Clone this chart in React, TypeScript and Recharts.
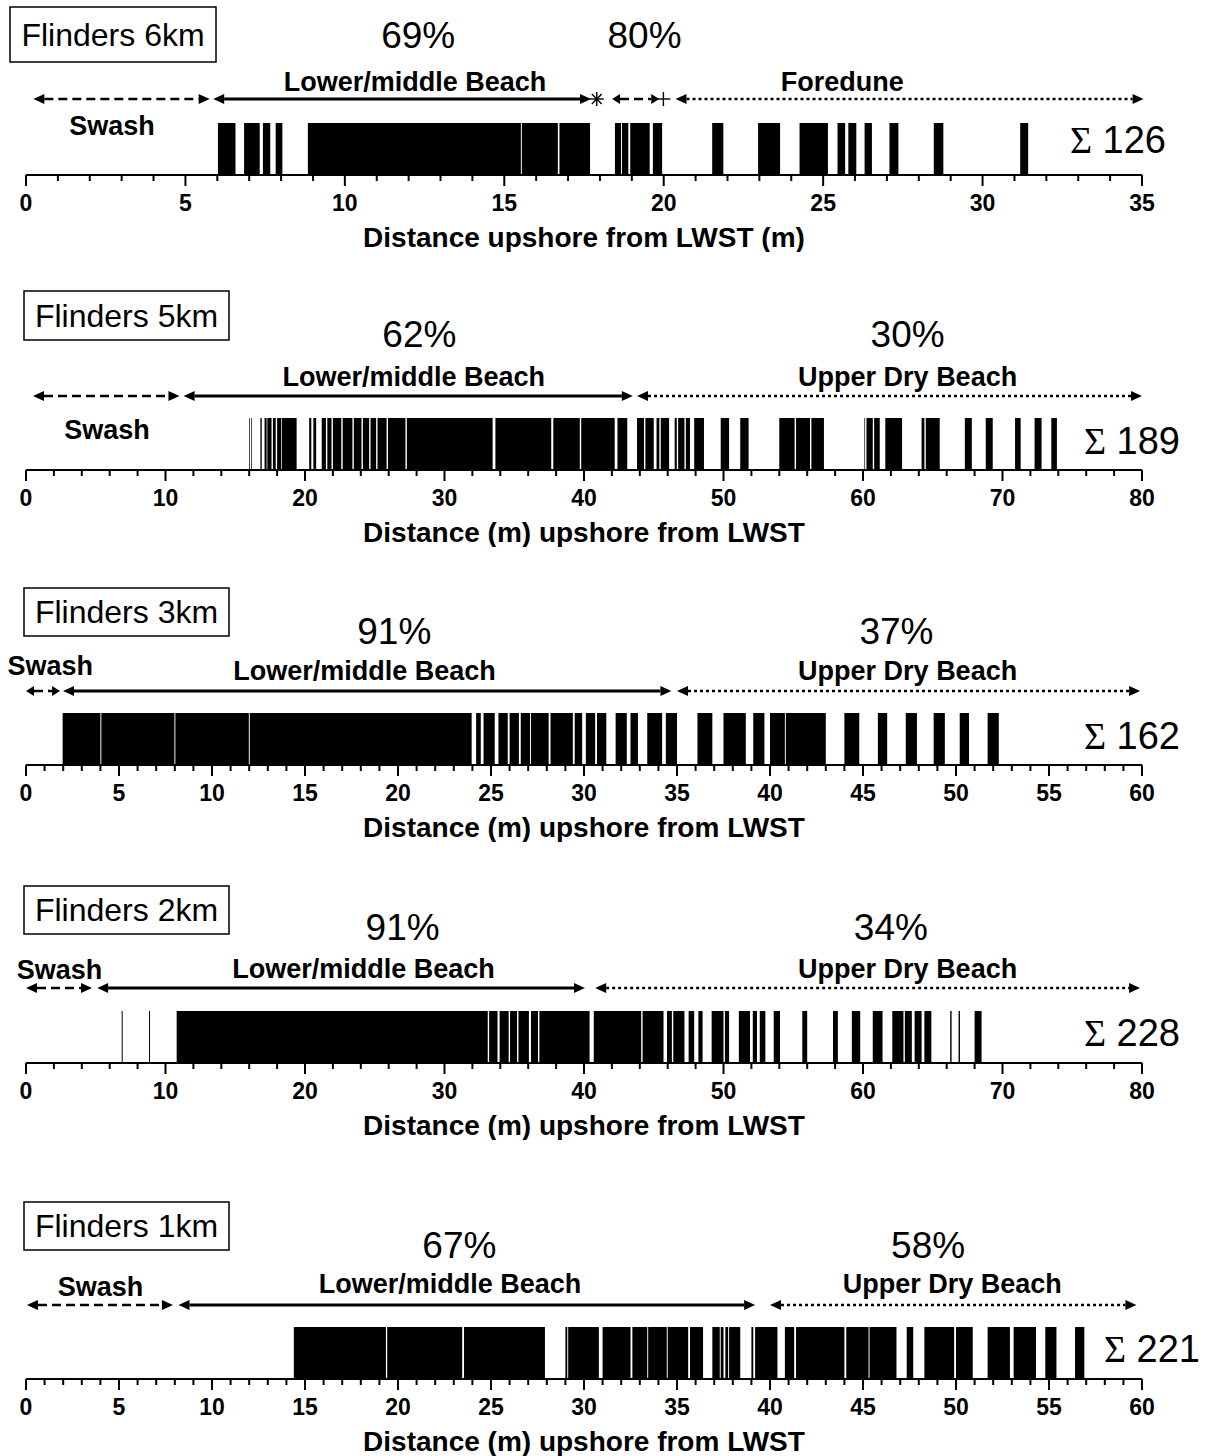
import React from "react";
import { ComposedChart, Area, XAxis, YAxis, ReferenceLine, ReferenceDot } from "recharts";

const SANS = "'Liberation Sans', Arial, sans-serif";
const SERIF = "'Liberation Serif', 'Times New Roman', serif";

type Band = [number, number];
type Region = { from: number; to: number; kind: "swash" | "lower" | "upper"; name: string; labelAt: number };
type Pct = { at: number; text: string };

// site names, totals and axes
const siteNames = ["Flinders 6km", "Flinders 5km", "Flinders 3km", "Flinders 2km", "Flinders 1km"];
const totals = [126, 189, 162, 228, 221];
const axisMax = [35, 80, 60, 80, 60];
const minorStep = [1, 2, 1, 2, 1];
const axisTitles = [
  "Distance upshore from LWST (m)",
  "Distance (m) upshore from LWST",
  "Distance (m) upshore from LWST",
  "Distance (m) upshore from LWST",
  "Distance (m) upshore from LWST",
];

const majorTicks6km = [0, 5, 10, 15, 20, 25, 30, 35];
const majorTicks5km = [0, 10, 20, 30, 40, 50, 60, 70, 80];
const majorTicks3km = [0, 5, 10, 15, 20, 25, 30, 35, 40, 45, 50, 55, 60];
const majorTicks2km = [0, 10, 20, 30, 40, 50, 60, 70, 80];
const majorTicks1km = [0, 5, 10, 15, 20, 25, 30, 35, 40, 45, 50, 55, 60];

// occupied stretches along the transect (m)
const bands6km: Band[] = [
  [6.02, 6.57], [6.84, 7.33], [7.43, 7.66], [7.83, 8.04], [8.84, 15.52], [15.55, 16.68],
  [16.73, 17.69], [18.47, 18.66], [18.69, 18.89], [18.95, 19.56], [19.66, 19.95], [21.52, 21.87],
  [22.96, 23.65], [24.26, 25.15], [25.45, 25.69], [25.79, 26.04], [26.3, 26.53], [27.08, 27.36],
  [28.47, 28.77], [31.18, 31.43],
];
const bands5km: Band[] = [
  [16.0, 16.05], [16.15, 16.2], [16.8, 16.9], [17.1, 17.25], [17.3, 17.6], [17.7, 17.9],
  [18.0, 18.3], [18.35, 19.4], [20.3, 20.45], [20.6, 20.8], [21.2, 21.5], [21.6, 21.9],
  [22.0, 22.6], [22.7, 23.4], [23.5, 24.05], [24.15, 24.6], [24.7, 25.1], [25.2, 25.85],
  [25.95, 27.2], [27.3, 33.45], [33.65, 37.65], [37.8, 39.7], [39.8, 42.2], [42.4, 43.1],
  [43.8, 44.3], [44.4, 45.0], [45.2, 45.4], [45.5, 46.1], [46.5, 46.65], [46.75, 47.2],
  [47.3, 47.6], [47.9, 48.6], [49.8, 50.4], [51.2, 51.8], [54.0, 55.1], [55.2, 56.2],
  [56.3, 57.2], [60.1, 60.15], [60.25, 60.7], [60.8, 61.2], [61.6, 62.8], [64.2, 64.4],
  [64.5, 65.5], [67.3, 67.8], [68.8, 69.3], [70.9, 71.3], [72.3, 72.8], [73.5, 73.9],
];
const bands3km: Band[] = [
  [1.97, 4.0], [4.05, 7.98], [8.03, 11.98], [12.03, 23.96], [24.2, 24.45], [24.6, 25.2],
  [25.4, 25.9], [26.0, 26.5], [26.6, 27.1], [27.15, 28.1], [28.2, 29.4], [29.5, 29.9],
  [30.1, 30.6], [30.7, 31.2], [31.7, 32.3], [32.5, 32.9], [33.4, 34.2], [34.4, 35.0],
  [36.1, 36.9], [37.5, 38.7], [39.1, 39.7], [40.0, 40.8], [40.85, 43.0], [44.0, 44.8],
  [45.8, 46.3], [47.3, 47.9], [48.8, 49.4], [50.2, 50.7], [51.7, 52.3],
];
const bands2km: Band[] = [
  [6.86, 6.93], [8.82, 8.89], [10.8, 33.1], [33.2, 33.8], [33.95, 34.6], [34.7, 35.2],
  [35.3, 36.05], [36.2, 36.7], [36.8, 40.4], [40.7, 44.1], [44.2, 45.7], [45.95, 46.3],
  [46.4, 47.2], [47.5, 47.9], [48.2, 48.5], [49.15, 50.0], [50.1, 50.4], [51.1, 51.9],
  [52.1, 52.4], [52.6, 53.0], [53.6, 54.05], [55.65, 56.0], [57.85, 58.2], [59.2, 59.8],
  [60.7, 61.4], [62.1, 62.9], [63.0, 63.5], [63.7, 64.2], [64.4, 64.9], [66.25, 66.35],
  [66.85, 66.95], [68.0, 68.5],
];
const bands1km: Band[] = [
  [14.4, 19.35], [19.42, 23.45], [23.55, 27.9], [29.0, 29.1], [29.15, 30.8], [31.0, 32.5],
  [32.6, 33.4], [33.45, 34.45], [34.5, 35.6], [35.7, 36.4], [36.9, 37.3], [37.35, 37.5],
  [37.6, 37.75], [37.8, 38.4], [39.0, 39.1], [39.2, 40.4], [40.8, 41.3], [41.4, 44.0],
  [44.1, 45.3], [45.35, 46.8], [47.35, 47.7], [48.3, 49.9], [50.0, 50.9], [51.7, 52.9],
  [53.1, 54.3], [54.8, 55.4], [56.4, 56.9],
];

// beach zones
const regions6km: Region[] = [
  { from: 0.23, to: 5.76, kind: "swash", name: "Swash", labelAt: 2.7 },
  { from: 5.87, to: 17.72, kind: "lower", name: "Lower/middle Beach", labelAt: 12.2 },
  { from: 18.38, to: 19.86, kind: "swash", name: "", labelAt: 19.1 },
  { from: 20.37, to: 35.05, kind: "upper", name: "Foredune", labelAt: 25.6 },
];
const regions5km: Region[] = [
  { from: 0.5, to: 11.0, kind: "swash", name: "Swash", labelAt: 5.8 },
  { from: 11.3, to: 43.5, kind: "lower", name: "Lower/middle Beach", labelAt: 27.8 },
  { from: 43.8, to: 80.0, kind: "upper", name: "Upper Dry Beach", labelAt: 63.2 },
];
const regions3km: Region[] = [
  { from: 0.0, to: 1.83, kind: "swash", name: "Swash", labelAt: 1.3 },
  { from: 1.99, to: 34.7, kind: "lower", name: "Lower/middle Beach", labelAt: 18.2 },
  { from: 35.0, to: 59.9, kind: "upper", name: "Upper Dry Beach", labelAt: 47.4 },
];
const regions2km: Region[] = [
  { from: 0.0, to: 4.73, kind: "swash", name: "Swash", labelAt: 2.4 },
  { from: 5.1, to: 40.07, kind: "lower", name: "Lower/middle Beach", labelAt: 24.2 },
  { from: 40.8, to: 79.86, kind: "upper", name: "Upper Dry Beach", labelAt: 63.2 },
];
const regions1km: Region[] = [
  { from: 0.05, to: 7.9, kind: "swash", name: "Swash", labelAt: 4.0 },
  { from: 8.2, to: 39.2, kind: "lower", name: "Lower/middle Beach", labelAt: 22.8 },
  { from: 40.0, to: 59.7, kind: "upper", name: "Upper Dry Beach", labelAt: 49.8 },
];

// percentages above the zones
const pct6km: Pct[] = [{ at: 12.3, text: "69%" }, { at: 19.4, text: "80%" }];
const pct5km: Pct[] = [{ at: 28.2, text: "62%" }, { at: 63.2, text: "30%" }];
const pct3km: Pct[] = [{ at: 19.8, text: "91%" }, { at: 46.8, text: "37%" }];
const pct2km: Pct[] = [{ at: 27.0, text: "91%" }, { at: 62.0, text: "34%" }];
const pct1km: Pct[] = [{ at: 23.3, text: "67%" }, { at: 48.5, text: "58%" }];

// zone boundary symbols at 6km
const symbols6km = [{ at: 17.9, kind: "star" }, { at: 19.99, kind: "plus" }];

const allBands = [bands6km, bands5km, bands3km, bands2km, bands1km];
const allRegions = [regions6km, regions5km, regions3km, regions2km, regions1km];
const allPct = [pct6km, pct5km, pct3km, pct2km, pct1km];
const allMajor = [majorTicks6km, majorTicks5km, majorTicks3km, majorTicks2km, majorTicks1km];

// page layout (pixels)
const layout = [
  { bt: 123, arrowDy: -24, labelDy: -32, pctDy: -75, swashDy: 12, sigmaRight: 1166, sigmaDy: 30, box: [10, 7, 206, 55] },
  { bt: 418, arrowDy: -22, labelDy: -32, pctDy: -71, swashDy: 21, sigmaRight: 1180, sigmaDy: 36, box: [24, 291, 205, 49] },
  { bt: 713, arrowDy: -22, labelDy: -33, pctDy: -69, swashDy: -38, sigmaRight: 1180, sigmaDy: 36, box: [24, 588, 205, 48] },
  { bt: 1011, arrowDy: -23, labelDy: -33, pctDy: -71, swashDy: -32, sigmaRight: 1180, sigmaDy: 35, box: [24, 886, 205, 48] },
  { bt: 1327, arrowDy: -22, labelDy: -34, pctDy: -69, swashDy: -31, sigmaRight: 1200, sigmaDy: 35, box: [24, 1202, 205, 48] },
];

const PLOT_TOP = 123;
const CHART_H = 252;

const kindStyle: Record<string, { w: number; dash?: string }> = {
  swash: { w: 2.5, dash: "9 5" },
  lower: { w: 3 },
  upper: { w: 2.5, dash: "3 3" },
};

function arrowShape(r: Region, L: any) {
  return (p: any) => {
    const { x1, x2, y1 } = p;
    const y = y1 + L.arrowDy;
    const head = x2 - x1 < 50 ? 8 : 11;
    const half = 5;
    const st = kindStyle[r.kind];
    const lx = x1 + ((r.labelAt - r.from) / (r.to - r.from)) * (x2 - x1);
    const ly = y1 + (r.name === "Swash" ? L.swashDy : L.labelDy);
    return (
      <g>
        <line x1={x1 + head} x2={x2 - head} y1={y} y2={y} stroke="#000" strokeWidth={st.w} strokeDasharray={st.dash} />
        <polygon points={`${x1},${y} ${x1 + head},${y - half} ${x1 + head},${y + half}`} fill="#000" />
        <polygon points={`${x2},${y} ${x2 - head},${y - half} ${x2 - head},${y + half}`} fill="#000" />
        {r.name ? (
          <text x={lx} y={ly} textAnchor="middle" fontFamily={SANS} fontWeight={700} fontSize={27} fill="#000">
            {r.name}
          </text>
        ) : null}
      </g>
    );
  };
}

function pctShape(t: string, L: any) {
  return (p: any) => (
    <text x={p.cx} y={p.cy + L.pctDy} textAnchor="middle" fontFamily={SANS} fontSize={37} fill="#000">
      {t}
    </text>
  );
}

function symbolShape(kind: string, L: any) {
  return (p: any) => {
    const cx = p.cx;
    const cy = p.cy + L.arrowDy;
    const r = 7;
    if (kind === "plus") {
      return (
        <g stroke="#000" strokeWidth={1.4}>
          <line x1={cx - r} x2={cx + r} y1={cy} y2={cy} />
          <line x1={cx} x2={cx} y1={cy - r} y2={cy + r} />
        </g>
      );
    }
    const angles = [0, 45, 90, 135];
    return (
      <g stroke="#000" strokeWidth={1.4}>
        {angles.map((a) => {
          const dx = r * Math.cos((a * Math.PI) / 180);
          const dy = r * Math.sin((a * Math.PI) / 180);
          return <line key={a} x1={cx - dx} x2={cx + dx} y1={cy - dy} y2={cy + dy} />;
        })}
      </g>
    );
  };
}

function tickRenderer(major: number[]) {
  return (p: any) => {
    const v = p.payload.value;
    const isMajor = major.includes(v);
    return (
      <g>
        <line x1={p.x} x2={p.x} y1={p.y} y2={p.y + (isMajor ? 11 : 6)} stroke="#000" strokeWidth={2} />
        {isMajor ? (
          <text x={p.x} y={p.y + 36} textAnchor="middle" fontFamily={SANS} fontWeight={700} fontSize={23} fill="#000">
            {v}
          </text>
        ) : null}
      </g>
    );
  };
}

function Panel({ idx }: { idx: number }) {
  const L = layout[idx];
  const max = axisMax[idx];
  const bands = allBands[idx];
  const data: { x: number; v: number }[] = [{ x: 0, v: 0 }];
  bands.forEach(([a, b]) => {
    data.push({ x: a, v: 1 });
    data.push({ x: b, v: 0 });
  });
  data.push({ x: max, v: 0 });
  const ticks: number[] = [];
  for (let t = 0; t <= max; t += minorStep[idx]) ticks.push(t);

  return (
    <div style={{ position: "absolute", left: 0, top: L.bt - PLOT_TOP }}>
      <ComposedChart width={1210} height={CHART_H} data={data} margin={{ top: PLOT_TOP, right: 68, bottom: 5, left: 26 }}>
        <XAxis
          dataKey="x"
          type="number"
          domain={[0, max]}
          ticks={ticks}
          interval={0}
          allowDataOverflow
          tickLine={false}
          tickSize={0}
          tickMargin={0}
          height={72}
          axisLine={{ stroke: "#000", strokeWidth: 2 }}
          tick={tickRenderer(allMajor[idx])}
          label={{
            value: axisTitles[idx],
            position: "insideBottom",
            offset: 0,
            fill: "#000",
            fontSize: 28,
            fontWeight: 700,
            fontFamily: SANS,
          }}
        />
        <YAxis hide domain={[0, 1]} />
        <Area
          type="stepAfter"
          dataKey="v"
          stroke="none"
          fill="#000"
          fillOpacity={1}
          dot={false}
          activeDot={false}
          isAnimationActive={false}
        />
        {allRegions[idx].map((r, i) => (
          <ReferenceLine
            key={`r${i}`}
            segment={[{ x: r.from, y: 1 }, { x: r.to, y: 1 }]}
            ifOverflow="visible"
            shape={arrowShape(r, L)}
          />
        ))}
        {allPct[idx].map((p, i) => (
          <ReferenceDot key={`p${i}`} x={p.at} y={1} ifOverflow="visible" shape={pctShape(p.text, L)} />
        ))}
        {idx === 0
          ? symbols6km.map((s, i) => (
              <ReferenceDot key={`s${i}`} x={s.at} y={1} ifOverflow="visible" shape={symbolShape(s.kind, L)} />
            ))
          : null}
      </ComposedChart>
    </div>
  );
}

export default function App() {
  return (
    <div style={{ position: "absolute", left: 0, top: 0, width: 1210, height: 1456, overflow: "hidden", background: "#fff" }}>
      {siteNames.map((_, i) => (
        <Panel key={i} idx={i} />
      ))}
      <svg width={1210} height={1456} style={{ position: "absolute", left: 0, top: 0, pointerEvents: "none" }}>
        {siteNames.map((name, i) => {
          const L = layout[i];
          const [bx, by, bw, bh] = L.box;
          return (
            <g key={name}>
              <rect x={bx} y={by} width={bw} height={bh} fill="#fff" stroke="#000" strokeWidth={1.5} />
              <text x={bx + bw / 2} y={by + bh / 2 + 11} textAnchor="middle" fontFamily={SANS} fontSize={32} fill="#000">
                {name}
              </text>
              <text x={L.sigmaRight} y={L.bt + L.sigmaDy} textAnchor="end" fontFamily={SANS} fontSize={38} fill="#000">
                <tspan fontFamily={SERIF}>Σ</tspan> {totals[i]}
              </text>
            </g>
          );
        })}
      </svg>
    </div>
  );
}
